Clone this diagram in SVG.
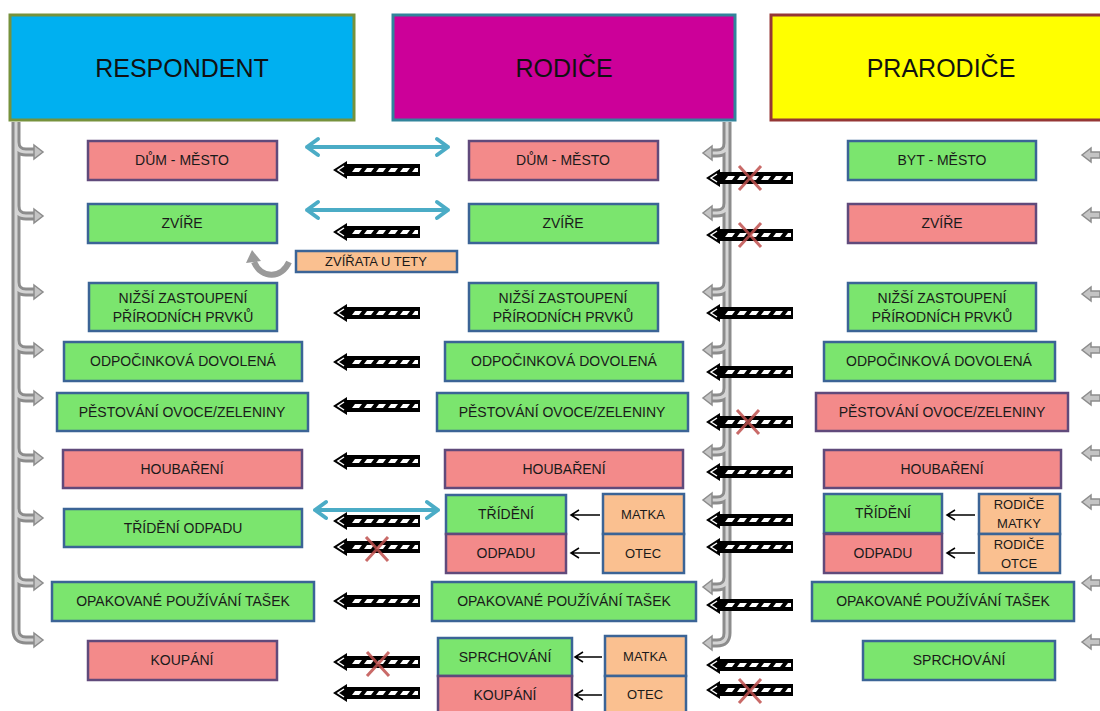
<svg xmlns="http://www.w3.org/2000/svg" xmlns:xlink="http://www.w3.org/1999/xlink" width="1100" height="711" viewBox="0 0 1100 711">
<style>
.t{font-family:"Liberation Sans",Arial,sans-serif;font-size:14px;fill:#1a1a1a;text-anchor:middle}
.ts{font-family:"Liberation Sans",Arial,sans-serif;font-size:13px;fill:#1a1a1a;text-anchor:middle}
.th{font-family:"Liberation Sans",Arial,sans-serif;font-size:25px;fill:#111;text-anchor:middle}
.g{fill:#7BE56E;stroke:#3B6496;stroke-width:2.5}
.p{fill:#F38A8A;stroke:#604A7B;stroke-width:2.5}
.o{fill:#FAC090;stroke:#3B6496;stroke-width:2.5}
.pipe{fill:none;stroke:#8c8c8c;stroke-width:9}
.pipei{fill:none;stroke:#d4d4d4;stroke-width:3}
.ph{fill:#c4c4c4;stroke:#8c8c8c;stroke-width:1.5}
.blue{fill:none;stroke:#4BACC6;stroke-width:4;stroke-linecap:round;stroke-linejoin:round}
.thin{fill:none;stroke:#000;stroke-width:1.5}
</style>
<defs>
<g id="stripe">
<path d="M0,0 L14,-9 L14,-6 L87,-6 L87,6 L14,6 L14,9 Z" fill="#000"/>
<path d="M11,-4 L5,0 L11,4" fill="none" stroke="#fff" stroke-width="1.5"/>
<path d="M19,2 L22,-2 L29,-2 L26,2 Z M31,2 L34,-2 L41,-2 L38,2 Z M43,2 L46,-2 L53,-2 L50,2 Z M55,2 L58,-2 L65,-2 L62,2 Z M67,2 L70,-2 L77,-2 L74,2 Z M79,2 L82,-2 L85,-2 L85,2 Z" fill="#fff"/>
</g>
<g id="xm">
<path d="M-11,-12 L11,12 M11,-12 L-11,12" stroke="#C0504D" stroke-width="3" stroke-opacity="0.85" fill="none"/>
</g>
<polygon id="lh" points="34,-7 43,0 34,7"/>
<polygon id="rh" points="1082,0 1091,-7 1091,-3 1100,-3 1100,3 1091,3 1091,7"/>
</defs>
<rect width="1100" height="711" fill="#fff"/>

<g id="h-respondent"><rect x="10" y="15" width="344" height="105" fill="#00B0F0" stroke="#76923C" stroke-width="3"/><text class="th" x="182" y="77">RESPONDENT</text></g>
<g id="h-rodice"><rect x="393" y="15" width="342" height="105" fill="#CC0099" stroke="#31849B" stroke-width="3"/><text class="th" x="564" y="77">RODIČE</text></g>
<g id="h-prarodice"><rect x="771" y="15" width="340" height="105" fill="#FFFF00" stroke="#953735" stroke-width="3"/><text class="th" x="941" y="77">PRARODIČE</text></g>

<g id="connectors">
<!-- left pipe -->
<g id="pipe-left">
<path class="pipe" d="M16,122 V630 Q16,640 26,640 H35 M16,142 Q16,152 26,152 H35 M16,206 Q16,216 26,216 H35 M16,282 Q16,292 26,292 H35 M16,340 Q16,350 26,350 H35 M16,388 Q16,398 26,398 H35 M16,448 Q16,458 26,458 H35 M16,508 Q16,518 26,518 H35 M16,573 Q16,583 26,583 H35"/>
<path class="pipei" d="M16,122 V630 Q16,640 26,640 H35 M16,142 Q16,152 26,152 H35 M16,206 Q16,216 26,216 H35 M16,282 Q16,292 26,292 H35 M16,340 Q16,350 26,350 H35 M16,388 Q16,398 26,398 H35 M16,448 Q16,458 26,458 H35 M16,508 Q16,518 26,518 H35 M16,573 Q16,583 26,583 H35"/>
<use xlink:href="#lh" href="#lh" class="ph" y="152"/><use href="#lh" class="ph" y="216"/><use href="#lh" class="ph" y="292"/><use href="#lh" class="ph" y="350"/><use href="#lh" class="ph" y="398"/><use href="#lh" class="ph" y="458"/><use href="#lh" class="ph" y="518"/><use href="#lh" class="ph" y="583"/><use href="#lh" class="ph" y="640"/>
</g>
<!-- middle pipe -->
<g id="pipe-mid">
<path class="pipe" d="M727,122 V633 Q727,643 717,643 H711 M727,143 Q727,153 717,153 H711 M727,203 Q727,213 717,213 H711 M727,282 Q727,292 717,292 H711 M727,340 Q727,350 717,350 H711 M727,388 Q727,398 717,398 H711 M727,442 Q727,452 717,452 H711 M727,490 Q727,500 717,500 H711 M727,577 Q727,587 717,587 H711"/>
<path class="pipei" d="M727,122 V633 Q727,643 717,643 H711 M727,143 Q727,153 717,153 H711 M727,203 Q727,213 717,213 H711 M727,282 Q727,292 717,292 H711 M727,340 Q727,350 717,350 H711 M727,388 Q727,398 717,398 H711 M727,442 Q727,452 717,452 H711 M727,490 Q727,500 717,500 H711 M727,577 Q727,587 717,587 H711"/>
<g class="ph">
<polygon points="712,146 703,153 712,160"/><polygon points="712,206 703,213 712,220"/><polygon points="712,285 703,292 712,299"/><polygon points="712,343 703,350 712,357"/><polygon points="712,391 703,398 712,405"/><polygon points="712,445 703,452 712,459"/><polygon points="712,493 703,500 712,507"/><polygon points="712,580 703,587 712,594"/><polygon points="712,636 703,643 712,650"/>
</g>
</g>
<!-- right arrows -->
<g id="arrows-right" class="ph">
<use href="#rh" y="155"/><use href="#rh" y="215"/><use href="#rh" y="294"/><use href="#rh" y="350"/><use href="#rh" y="398"/><use href="#rh" y="453"/><use href="#rh" y="502"/><use href="#rh" y="583"/><use href="#rh" y="642"/>
</g>
<!-- blue double arrows -->
<g id="blue-arrows" class="blue">
<path d="M307,147 H448 M318,139 L307,147 L318,155 M437,139 L448,147 L437,155"/>
<path d="M307,210 H448 M318,202 L307,210 L318,218 M437,202 L448,210 L437,218"/>
<path d="M315,510 H438 M326,502 L315,510 L326,518 M427,502 L438,510 L427,518"/>
</g>
<!-- striped arrows left -->
<g id="stripes-left">
<use href="#stripe" x="333" y="170"/><use href="#stripe" x="333" y="232"/><use href="#stripe" x="333" y="313"/><use href="#stripe" x="333" y="362"/><use href="#stripe" x="333" y="406"/><use href="#stripe" x="333" y="461"/><use href="#stripe" x="333" y="521"/><use href="#stripe" x="333" y="547"/><use href="#stripe" x="333" y="601"/><use href="#stripe" x="333" y="662"/><use href="#stripe" x="333" y="693"/>
<use href="#xm" x="377" y="549"/><use href="#xm" x="378" y="664"/>
</g>
<!-- striped arrows middle -->
<g id="stripes-mid">
<use href="#stripe" x="706" y="178"/><use href="#stripe" x="706" y="235"/><use href="#stripe" x="706" y="313"/><use href="#stripe" x="706" y="372"/><use href="#stripe" x="706" y="422"/><use href="#stripe" x="706" y="472"/><use href="#stripe" x="706" y="520"/><use href="#stripe" x="706" y="547"/><use href="#stripe" x="706" y="605"/><use href="#stripe" x="706" y="665"/><use href="#stripe" x="706" y="690"/>
<use href="#xm" x="750" y="178"/><use href="#xm" x="750" y="235"/><use href="#xm" x="748" y="422"/><use href="#xm" x="750" y="691"/>
</g>
<!-- thin arrows -->
<g id="thin-arrows" class="thin">
<path d="M600,515 H571 M579,510 L571,515 L579,520"/>
<path d="M600,553 H571 M579,548 L571,553 L579,558"/>
<path d="M602,657 H575 M583,652 L575,657 L583,662"/>
<path d="M602,695 H575 M583,690 L575,695 L583,700"/>
<path d="M975,515 H947 M955,510 L947,515 L955,520"/>
<path d="M975,553 H947 M955,548 L947,553 L955,558"/>
</g>
<!-- curved arrow -->
<g id="curve-arrow">
<path d="M289,262 C282,278 262,280 254,262" fill="none" stroke="#9a9a9a" stroke-width="6"/>
<polygon points="246,263 261,261 252,250" fill="#9a9a9a"/>
</g>
</g>

<!-- Row 1 -->
<g id="r1-resp"><rect class="p" x="88" y="141" width="189" height="39"/><text class="t" x="182" y="165">DŮM - MĚSTO</text></g>
<g id="r1-rod"><rect class="p" x="469" y="141" width="189" height="39"/><text class="t" x="563" y="165">DŮM - MĚSTO</text></g>
<g id="r1-prar"><rect class="g" x="848" y="141" width="188" height="39"/><text class="t" x="942" y="165">BYT - MĚSTO</text></g>
<!-- Row 2 -->
<g id="r2-resp"><rect class="g" x="88" y="204" width="189" height="39"/><text class="t" x="182" y="228">ZVÍŘE</text></g>
<g id="r2-rod"><rect class="g" x="469" y="204" width="189" height="39"/><text class="t" x="563" y="228">ZVÍŘE</text></g>
<g id="r2-prar"><rect class="p" x="848" y="204" width="188" height="39"/><text class="t" x="942" y="228">ZVÍŘE</text></g>
<g id="zvirata-u-tety"><rect class="o" x="296" y="251" width="161" height="21"/><text class="ts" x="376" y="266">ZVÍŘATA U TETY</text></g>
<!-- Row 3 -->
<g id="r3-resp"><rect class="g" x="89" y="283" width="188" height="48"/><text class="t" x="183" y="303">NIŽŠÍ ZASTOUPENÍ</text><text class="t" x="183" y="322">PŘÍRODNÍCH PRVKŮ</text></g>
<g id="r3-rod"><rect class="g" x="469" y="283" width="189" height="48"/><text class="t" x="563" y="303">NIŽŠÍ ZASTOUPENÍ</text><text class="t" x="563" y="322">PŘÍRODNÍCH PRVKŮ</text></g>
<g id="r3-prar"><rect class="g" x="848" y="283" width="188" height="48"/><text class="t" x="942" y="303">NIŽŠÍ ZASTOUPENÍ</text><text class="t" x="942" y="322">PŘÍRODNÍCH PRVKŮ</text></g>
<!-- Row 4 -->
<g id="r4-resp"><rect class="g" x="64" y="342" width="238" height="39"/><text class="t" x="183" y="366">ODPOČINKOVÁ DOVOLENÁ</text></g>
<g id="r4-rod"><rect class="g" x="445" y="342" width="238" height="39"/><text class="t" x="564" y="366">ODPOČINKOVÁ DOVOLENÁ</text></g>
<g id="r4-prar"><rect class="g" x="824" y="342" width="231" height="39"/><text class="t" x="939" y="366">ODPOČINKOVÁ DOVOLENÁ</text></g>
<!-- Row 5 -->
<g id="r5-resp"><rect class="g" x="57" y="393" width="251" height="38"/><text class="t" x="182" y="417">PĚSTOVÁNÍ OVOCE/ZELENINY</text></g>
<g id="r5-rod"><rect class="g" x="437" y="393" width="251" height="38"/><text class="t" x="562" y="417">PĚSTOVÁNÍ OVOCE/ZELENINY</text></g>
<g id="r5-prar"><rect class="p" x="816" y="393" width="252" height="38"/><text class="t" x="942" y="417">PĚSTOVÁNÍ OVOCE/ZELENINY</text></g>
<!-- Row 6 -->
<g id="r6-resp"><rect class="p" x="63" y="450" width="239" height="38"/><text class="t" x="182" y="474">HOUBAŘENÍ</text></g>
<g id="r6-rod"><rect class="p" x="445" y="450" width="238" height="38"/><text class="t" x="564" y="474">HOUBAŘENÍ</text></g>
<g id="r6-prar"><rect class="p" x="824" y="450" width="237" height="38"/><text class="t" x="942" y="474">HOUBAŘENÍ</text></g>
<!-- Row 7 -->
<g id="r7-resp"><rect class="g" x="64" y="509" width="238" height="38"/><text class="t" x="183" y="533">TŘÍDĚNÍ ODPADU</text></g>
<g id="r7-rod-trideni"><rect class="g" x="446" y="495" width="120" height="39"/><text class="t" x="506" y="519">TŘÍDĚNÍ</text></g>
<g id="r7-rod-odpadu"><rect class="p" x="446" y="534" width="120" height="39"/><text class="t" x="506" y="558">ODPADU</text></g>
<g id="r7-rod-matka"><rect class="o" x="603" y="494" width="81" height="40"/><text class="ts" x="643" y="519">MATKA</text></g>
<g id="r7-rod-otec"><rect class="o" x="603" y="534" width="81" height="39"/><text class="ts" x="643" y="558">OTEC</text></g>
<g id="r7-prar-trideni"><rect class="g" x="824" y="494" width="118" height="39"/><text class="t" x="883" y="518">TŘÍDĚNÍ</text></g>
<g id="r7-prar-odpadu"><rect class="p" x="824" y="534" width="118" height="39"/><text class="t" x="883" y="558">ODPADU</text></g>
<g id="r7-prar-rodice-matky"><rect class="o" x="979" y="494" width="81" height="40"/><text class="ts" x="1019" y="509">RODIČE</text><text class="ts" x="1019" y="528">MATKY</text></g>
<g id="r7-prar-rodice-otce"><rect class="o" x="979" y="534" width="81" height="39"/><text class="ts" x="1019" y="549">RODIČE</text><text class="ts" x="1019" y="568">OTCE</text></g>
<!-- Row 8 -->
<g id="r8-resp"><rect class="g" x="52" y="582" width="262" height="39"/><text class="t" x="183" y="606">OPAKOVANÉ POUŽÍVÁNÍ TAŠEK</text></g>
<g id="r8-rod"><rect class="g" x="432" y="582" width="264" height="39"/><text class="t" x="564" y="606">OPAKOVANÉ POUŽÍVÁNÍ TAŠEK</text></g>
<g id="r8-prar"><rect class="g" x="812" y="582" width="262" height="39"/><text class="t" x="943" y="606">OPAKOVANÉ POUŽÍVÁNÍ TAŠEK</text></g>
<!-- Row 9 -->
<g id="r9-resp"><rect class="p" x="88" y="641" width="189" height="39"/><text class="t" x="182" y="665">KOUPÁNÍ</text></g>
<g id="r9-rod-sprchovani"><rect class="g" x="438" y="638" width="134" height="38"/><text class="t" x="505" y="662">SPRCHOVÁNÍ</text></g>
<g id="r9-rod-koupani"><rect class="p" x="438" y="676" width="134" height="38"/><text class="t" x="505" y="700">KOUPÁNÍ</text></g>
<g id="r9-rod-matka"><rect class="o" x="605" y="636" width="81" height="40"/><text class="ts" x="645" y="661">MATKA</text></g>
<g id="r9-rod-otec"><rect class="o" x="605" y="676" width="81" height="38"/><text class="ts" x="645" y="699">OTEC</text></g>
<g id="r9-prar"><rect class="g" x="863" y="641" width="192" height="39"/><text class="t" x="959" y="665">SPRCHOVÁNÍ</text></g>
</svg>
